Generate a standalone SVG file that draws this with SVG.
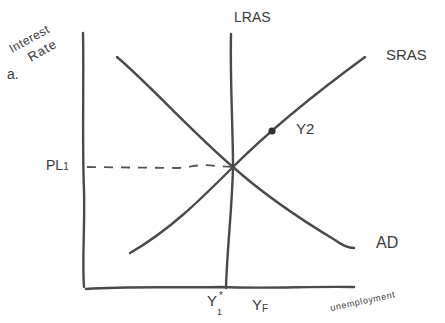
<svg xmlns="http://www.w3.org/2000/svg" width="445" height="323" viewBox="0 0 445 323">
<style>
.ln{fill:none;stroke:#4a4a4a;stroke-width:2.4;stroke-linecap:round;stroke-linejoin:round}
.dash{fill:none;stroke:#555;stroke-width:1.8;stroke-dasharray:9 8}
.t{font-family:"Liberation Sans",Arial,sans-serif;fill:#3a3a3a}
</style>
<rect width="445" height="323" fill="#fff"/>
<g id="axes">
<path class="ln" d="M83,33 C84,80 82,140 84,190 C85,230 82,260 84,287"/>
<path class="ln" d="M86,289 C130,286 170,288 220,287 C270,289 310,286 354,287"/>
</g>
<g id="connectors">
<path class="ln" d="M231,34 C230,80 233,130 233,167 C232,210 227,250 226,288"/>
<path class="ln" d="M117,57 C150,85 190,130 233,167 C270,200 310,225 335,240 C343,246 348,248 354,248"/>
<path class="ln" d="M130,253 C170,230 200,200 233,167 C270,130 320,90 365,57"/>
<path class="dash" d="M87,167 L175,168 C190,168 200,163 215,166 L233,167"/>
<circle cx="272" cy="131" r="3.6" fill="#333"/>
</g>
<g id="labels">
<text class="t" font-size="12" letter-spacing="0.5" transform="translate(12,53) rotate(-29)">Interest</text>
<text class="t" font-size="13" letter-spacing="1" transform="translate(31,62) rotate(-30)">Rate</text>
<text class="t" font-size="14" x="7" y="79">a.</text>
<text class="t" font-size="14" x="234" y="22">LRAS</text>
<text class="t" font-size="15" x="386" y="60">SRAS</text>
<text class="t" font-size="15" x="296" y="134">Y2</text>
<text class="t" font-size="16" x="376" y="248">AD</text>
<text class="t" font-size="14" x="46" y="170">PL<tspan font-size="10">1</tspan></text>
<text class="t" font-size="15" x="207" y="306">Y</text>
<text class="t" font-size="10" x="219" y="299">*</text>
<text class="t" font-size="9" x="217" y="315">1</text>
<text class="t" font-size="15" x="252" y="310">Y<tspan font-size="10" dy="2">F</tspan></text>
<text class="t" font-size="9" letter-spacing="0.6" transform="translate(331,311) rotate(-12)">unemployment</text>
</g>
</svg>
